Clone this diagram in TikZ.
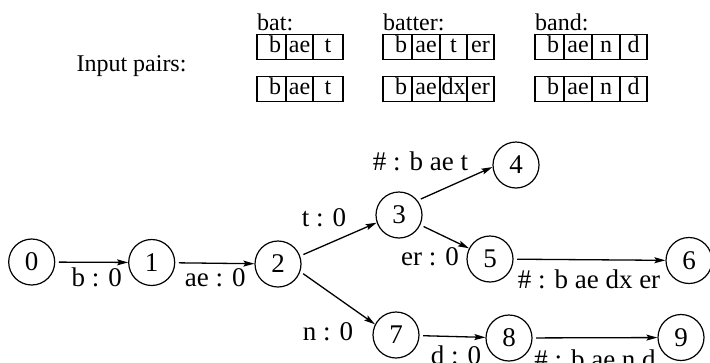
\documentclass[tikz,border=0pt]{standalone}
\usepackage{fontspec}
\setmainfont{Liberation Serif}
\usetikzlibrary{arrows.meta}
\begin{document}
\begin{tikzpicture}[x=1pt,y=-1pt,
  fnt/.style={font=\fontsize{24}{28}\selectfont},
  gfnt/.style={font=\fontsize{27}{31}\selectfont},
  st/.style={circle,draw,line width=1.2pt,minimum size=46pt,inner sep=0pt,gfnt},
  lbl/.style={anchor=base,inner sep=0pt,fnt},
  glbl/.style={anchor=base,inner sep=0pt,gfnt},
  cellw/.style={draw,line width=1.2pt,minimum width=#1,minimum height=25pt,inner sep=0pt,text height=16.5pt,text depth=5.5pt,fnt},
  cellb/.style={cellw=29pt,text width=19pt,align=right},
  arr/.style={line width=1.3pt,-{Stealth[length=11pt,width=6pt,inset=2pt]},shorten <=3.5pt},
]
\useasboundingbox (0,0) rectangle (710,362);

% input pairs
\node[lbl] (ip) at (131.5,71) {Input pairs:};
\node[lbl,anchor=base west] (wbat) at (257,30) {bat:};
\node[lbl,anchor=base west] (wbatter) at (383,30) {batter:};
\node[lbl,anchor=base west] (wband) at (535,30) {band:};

% bat
\node[cellb] (a1) at (271.5,47) {b};
\node[cellw=27pt] (a2) at (299.5,47) {ae};
\node[cellw=30pt] (a3) at (328,47) {t};
\node[cellb] (b1) at (271.5,89) {b};
\node[cellw=27pt] (b2) at (299.5,89) {ae};
\node[cellw=30pt] (b3) at (328,89) {t};
% batter
\node[cellb] (c1) at (397.5,47) {b};
\node[cellw=28pt] (c2) at (426,47) {ae};
\node[cellw=27pt] (c3) at (453.5,47) {t};
\node[cellw=27pt] (c4) at (480.5,47) {er};
\node[cellb] (d1) at (397.5,89) {b};
\node[cellw=28pt] (d2) at (426,89) {ae};
\node[cellw=27pt] (d3) at (453.5,89) {dx};
\node[cellw=27pt] (d4) at (480.5,89) {er};
% band
\node[cellb] (e1) at (549.5,47) {b};
\node[cellw=28pt] (e2) at (578,47) {ae};
\node[cellw=28pt] (e3) at (606,47) {n};
\node[cellw=27pt] (e4) at (633.5,47) {d};
\node[cellb] (f1) at (549.5,89) {b};
\node[cellw=28pt] (f2) at (578,89) {ae};
\node[cellw=28pt] (f3) at (606,89) {n};
\node[cellw=27pt] (f4) at (633.5,89) {d};

% states
\node[st] (n0) at (31.7,262) {0};
\node[st] (n1) at (151.7,262.5) {1};
\node[st] (n2) at (278,264) {2};
\node[st] (n3) at (399,215) {3};
\node[st] (n4) at (516,165) {4};
\node[st] (n5) at (490,259) {5};
\node[st] (n6) at (689,260.5) {6};
\node[st] (n7) at (396,335) {7};
\node[st] (n8) at (509,338) {8};
\node[st] (n9) at (681,337.5) {9};

% transitions
\draw[arr] (n0) -- (n1);
\draw[arr] (n1) -- (n2);
\draw[arr] (n2.20) -- (n3.199);
\draw[arr] (n2.-19) -- (n7.153);
\draw[arr] (n3.38) -- (n4.185);
\draw[arr] (n3.-25) -- (n5.153);
\draw[arr] (n5) -- (n6);
\draw[arr] (n7) -- (n8);
\draw[arr] (n8) -- (n9);

% labels
\node[glbl] (l01) at (96.7,286.5) {b : 0};
\node[glbl] (l12) at (215.3,286.5) {ae : 0};
\node[glbl] (l23) at (324,226.5) {t : 0};
\node[glbl] (l27) at (328,340.5) {n : 0};
\node[glbl] (l34) at (420.5,170.5) {\# : b ae t};
\node[glbl] (l35) at (430,265.5) {er : 0};
\node[glbl] (l56) at (589,288.5) {\# : b ae dx er};
\node[glbl] (l78) at (456,364) {d : 0};
\node[glbl] (l89) at (595,368) {\# : b ae n d};
\end{tikzpicture}
\end{document}
